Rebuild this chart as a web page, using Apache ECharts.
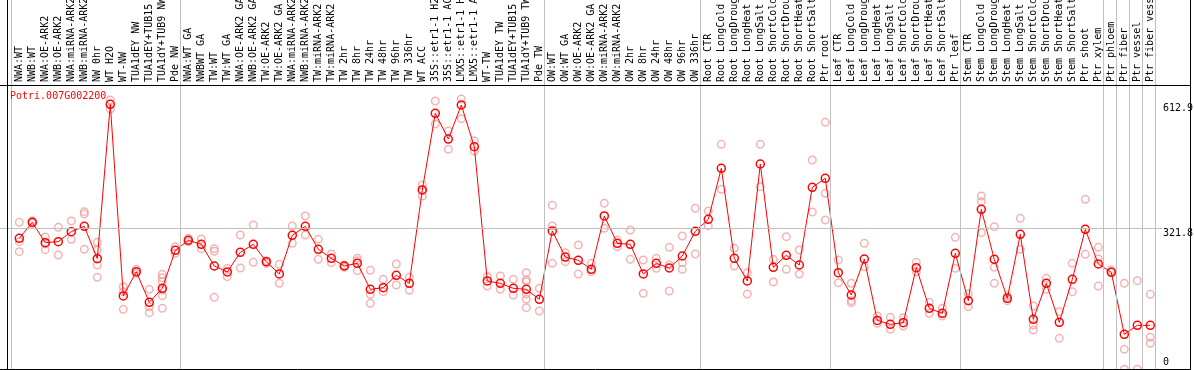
<!DOCTYPE html>
<html><head><meta charset="utf-8">
<script src="https://cdn.jsdelivr.net/npm/echarts@6/dist/echarts.min.js"></script>
<style>html,body{margin:0;padding:0;background:#fff}#c{width:1194px;height:370px}</style>
</head><body><div id="c"></div>
<script>
const geneName = 'Potri.007G002200';

const categories = [
  'NWA:WT','NWB:WT','NWA:OE-ARK2','NWB:OE-ARK2','NWA:miRNA-ARK2','NWB:miRNA-ARK2','NW 0hr','WT H2O','WT-NW','TUA1dEY NW','TUA1dEY+TUB15 NW','TUA1dY+TUB9 NW','Pde NW',
  'NWA:WT GA','NWBWT GA','TW:WT','TW:WT GA','NWA:OE-ARK2 GA','NWB:OE-ARK2 GA','TW:OE-ARK2','TW:OE-ARK2 GA','NWA:miRNA-ARK2 GA','NWB:miRNA-ARK2 GA','TW:miRNA-ARK2','TW:miRNA-ARK2 GA',
  'TW 2hr','TW 8hr','TW 24hr','TW 48hr','TW 96hr','TW 336hr','WT ACC','35S::etr1-1 H2O','35S::etr1-1 ACC','LMX5::etr1-1 H2O','LMX5::etr1-1 ACC','WT-TW','TUA1dEY TW','TUA1dEY+TUB15 TW','TUA1dY+TUB9 TW','Pde TW',
  'OW:WT','OW:WT GA','OW:OE-ARK2','OW:OE-ARK2 GA','OW:miRNA-ARK2','OW:miRNA-ARK2 GA','OW 2hr','OW 8hr','OW 24hr','OW 48hr','OW 96hr','OW 336hr',
  'Root CTR','Root LongCold','Root LongDrought','Root LongHeat','Root LongSalt','Root ShortCold','Root ShortDrought','Root ShortHeat','Root ShortSalt','Ptr root',
  'Leaf CTR','Leaf LongCold','Leaf LongDrought','Leaf LongHeat','Leaf LongSalt','Leaf ShortCold','Leaf ShortDrought','Leaf ShortHeat','Leaf ShortSalt','Ptr leaf',
  'Stem CTR','Stem LongCold','Stem LongDrought','Stem LongHeat','Stem LongSalt','Stem ShortCold','Stem ShortDrought','Stem ShortHeat','Stem ShortSalt','Ptr shoot','Ptr xylem',
  'Ptr phloem','Ptr fiber','Ptr vessel','Ptr fiber vessel'
];

const meanValues = [
  298.5,334.6,288.7,291.0,313.6,325.6,252.6,601.1,168.3,223.2,154.0,185.6,271.4,
  294.0,285.0,236.0,222.5,266.9,285.0,245.8,218.0,305.3,325.6,273.7,253.3,236.0,242.0,183.3,187.1,215.0,196.9,407.7,580.8,522.8,599.6,505.5,202.2,196.9,185.6,183.3,160.7,
  315.1,256.3,248.8,228.5,349.0,287.2,285.0,218.0,242.0,231.5,258.6,314.3,
  341.4,456.6,253.3,202.2,466.4,233.0,260.1,238.3,413.7,434.0,
  221.0,170.5,251.8,113.0,104.3,108.0,232.3,140.4,129.1,264.6,
  157.7,364.0,251.1,163.0,307.5,115.6,196.9,108.8,205.9,318.8,240.5,
  221.7,81.7,102.0,102.0
];

const replicateValues = [
  [334.6,291.0,268.4],[338.4,332.4],[301.5,285.7,272.9],[323.3,260.9],[337.7,296.2],[358.7,353.5,273.7],[289.5,272.2,238.3,210.4],[611.0,590.6],[189.3,178.1,138.2],[228.5,219.5],[183.3,144.2,130.6],[217.2,209.7,200.6,181.8,169.0,140.4],[279.7,264.6],
  [298.5,291.0],[297.0,275.2],[275.2,269.2,165.3],[230.7,212.0],[306.0,231.5],[328.6,244.3],[248.1,242.1],[239.8,196.9],[326.4,287.2],[349.0,306.0],[296.2,251.1],[263.1,243.6],[238.3,233.0],[253.3,248.1,225.5],[226.2,172.0,151.7],[205.9,178.1],[240.5,193.1],[210.4,181.1],[419.0,407.7,394.1],[608.7,556.7],[540.9,499.5],[612.9,568.8],[519.1,495.7],[212.0,190.9],[213.4,183.3],[205.9,170.5],[221.0,204.4,200.6,172.8,160.7,141.9],[185.6,134.4],
  [373.0,326.4,242.0],[266.1,245.8],[283.4,218.0],[242.0,223.2],[377.5,321.1],[294.7,279.7],[317.3,251.1],[249.6,174.3],[253.3,230.7],[278.2,238.3,179.6],[303.8,243.6,228.5],[366.3,263.1],
  [360.2,327.1],[510.8,409.2],[275.9,236.0],[221.0,172.8],[510.8,415.2],[251.1,199.9],[302.3,228.5],[272.2,218.0],[475.4,358.0],[560.5,400.1,339.9],
  [249.6,198.4],[196.9,157.7,153.2],[287.2,234.5],[123.1,106.5],[120.1,93.0],[119.3,100.5],[244.3,223.2],[154.0,129.1],[140.4,123.1],[300.8,230.7],
  [172.8,144.2],[394.1,381.3,311.3],[324.8,233.0,196.9],[168.3,157.7],[343.7,273.7],[145.7,102.8,91.5],[208.2,183.3],[132.9,72.7],[242.0,178.1],[386.6,262.4],[278.2,251.8,190.9],
  [227.0,223.2],[196.9,47.8,3.0],[202.9,3.0],[172.0,74.9,61.4]
];

// index of the first category of each group (last entry = end)
const groupStarts = [0, 13, 41, 53, 63, 73, 84, 85, 86, 87, 88];

const yTickValues = [612.9, 321.8, 0];
const yTickLabels = ['612.9', '321.8', '0'];
const referenceLineValue = 321.8;

const FONT = '"DejaVu Sans Mono", "Liberation Mono", monospace';

const replicatePoints = [];
replicateValues.forEach((reps, i) => reps.forEach(v => replicatePoints.push([i, v])));

const chart = echarts.init(document.getElementById('c'), null, { renderer: 'canvas' });
const frame = [
  { type: 'line', shape: { x1: 0, y1: 85.5, x2: 1191, y2: 85.5 }, style: { stroke: '#000', lineWidth: 1 }, z: 100 },
  { type: 'line', shape: { x1: 0, y1: 369.5, x2: 1191, y2: 369.5 }, style: { stroke: '#000', lineWidth: 1 }, z: 100 },
  { type: 'line', shape: { x1: 7.5, y1: 0, x2: 7.5, y2: 370 }, style: { stroke: '#000', lineWidth: 1 }, z: 100 },
  { type: 'line', shape: { x1: 1190.5, y1: 0, x2: 1190.5, y2: 370 }, style: { stroke: '#000', lineWidth: 1 }, z: 100 }
];
chart.setOption({
  animation: false,
  backgroundColor: '#ffffff',
  title: {
    text: geneName, left: 10, top: 91, padding: 0,
    textStyle: { color: '#ff0000', fontFamily: FONT, fontSize: 10, fontWeight: 'normal' }
  },
  grid: [
    { left: 6.3, right: 30.7, top: 0, bottom: 0, outerBoundsMode: 'none', containLabel: false },
    { left: 12.8, right: 37.2, top: 85, bottom: -0.5, outerBoundsMode: 'none', containLabel: false },
    { left: 0, right: 32, top: 85, bottom: -0.5, outerBoundsMode: 'none', containLabel: false }
  ],
  xAxis: [
    { gridIndex: 0, type: 'value', min: -1, max: 88, show: false },
    { gridIndex: 1, type: 'category', data: categories, position: 'top', boundaryGap: true,
      axisLine: { show: false }, axisTick: { show: false }, splitLine: { show: false },
      axisLabel: { interval: 0, rotate: 90, margin: 3, fontFamily: FONT, fontSize: 10, color: '#000', hideOverlap: false } },
    { gridIndex: 2, type: 'value', min: 0, max: 1, show: false }
  ],
  yAxis: [
    { gridIndex: 0, type: 'value', min: 0, max: 1, show: false },
    { gridIndex: 1, type: 'value', min: 0, max: 644.8, show: false },
    { gridIndex: 2, type: 'value', min: 0, max: 647, show: false }
  ],
  graphic: frame,
  series: [
    { type: 'line', xAxisIndex: 0, yAxisIndex: 0, data: [], silent: true,
      markLine: { silent: true, symbol: ['none', 'none'], label: { show: false },
        lineStyle: { color: '#c0c0c0', width: 1, type: 'solid' },
        data: groupStarts.map(b => ({ xAxis: b - 0.6 })) } },
    { type: 'line', xAxisIndex: 2, yAxisIndex: 2, data: [], silent: true,
      markLine: { silent: true, symbol: ['none', 'none'], label: { show: false },
        lineStyle: { color: '#c0c0c0', width: 1, type: 'solid' },
        data: [{ yAxis: referenceLineValue }] } },
    { type: 'scatter', xAxisIndex: 1, yAxisIndex: 1, data: replicatePoints, symbol: 'circle', symbolSize: 7.5,
      itemStyle: { color: 'rgba(0,0,0,0)', borderColor: '#f0a0a0', borderWidth: 1.5 }, z: 3 },
    { type: 'line', xAxisIndex: 1, yAxisIndex: 1, data: meanValues, symbol: 'circle', symbolSize: 8,
      showSymbol: true, showAllSymbol: true,
      lineStyle: { color: '#ff0000', width: 1 },
      itemStyle: { color: 'rgba(0,0,0,0)', borderColor: '#ff0000', borderWidth: 1.5 }, z: 4 }
  ]
});

// right-hand value labels, placed through the axis scale (small vertical nudges as in the original)
const labelNudge = [8, 4.5, -8.5];
const tickTexts = yTickValues.map((v, k) => {
  const y = chart.convertToPixel({ yAxisIndex: 2 }, v);
  return { type: 'text', x: 1163, y: y + labelNudge[k], z: 100,
    style: { text: yTickLabels[k], fill: '#000', font: '10px ' + FONT, textAlign: 'left', textVerticalAlign: 'middle', verticalAlign: 'middle' } };
});
chart.setOption({ graphic: frame.concat(tickTexts) });
</script>
</body></html>
